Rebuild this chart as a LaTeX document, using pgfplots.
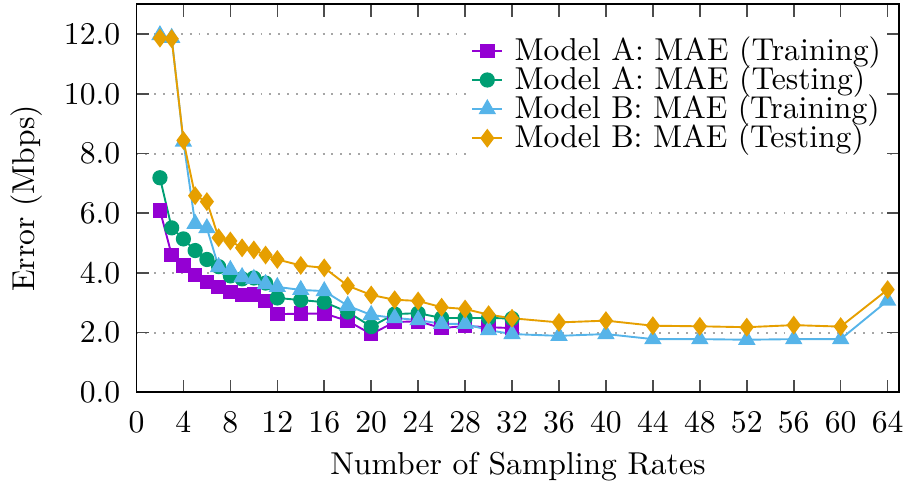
\documentclass[border=0pt]{standalone}
\usepackage{pgfplots}
\pgfplotsset{compat=1.18}
\definecolor{cA}{HTML}{9400D3}
\definecolor{cB}{HTML}{009E73}
\definecolor{cC}{HTML}{56B4E9}
\definecolor{cD}{HTML}{E69F00}
\begin{document}
\begin{tikzpicture}
\begin{axis}[
  name=main,
  scale only axis,
  width=241pt, height=122.5pt,
  xmin=0, xmax=65, ymin=0, ymax=13,
  xtick={0,4,...,64},
  ytick={0,2,...,12},
  yticklabel style={xshift=-1.6pt, /pgf/number format/.cd,fixed,fixed zerofill,precision=1},
  xticklabel style={yshift=-2.8pt},
  tick align=inside,
  major tick length=4pt,
  tick style={black!70, line width=0.5pt},
  axis line style={black, line width=0.6pt},
  ymajorgrids,
  grid style={gray!70, line width=0.6pt, dash pattern=on 0.6pt off 2.2pt},
  xlabel={Number of Sampling Rates},
  ylabel={Error (Mbps)},
  xlabel style={yshift=0.6pt},
  ylabel style={yshift=0pt},
  legend cell align=left,
  legend style={at={(0.985,0.935)}, anchor=north east, draw=none, fill=white,
    inner sep=1pt, row sep=-1.8pt, nodes={inner sep=1pt}},
  legend image code/.code={
    \draw[mark repeat=2,mark phase=2] plot coordinates {(0cm,0cm) (0.165cm,0cm) (0.33cm,0cm)};
    \path (0.33cm+2.6pt,0cm);},
  every axis plot/.append style={line width=0.6pt},
]
\addplot[color=cA, mark=square*, mark size=2pt] coordinates {
(2,6.1)(3,4.6)(4,4.24)(5,3.93)(6,3.70)(7,3.53)(8,3.36)(9,3.26)(10,3.27)(11,3.06)
(12,2.62)(14,2.63)(16,2.64)(18,2.39)(20,1.95)(22,2.35)(24,2.38)(26,2.15)(28,2.22)(30,2.18)(32,2.15)};
\addlegendentry{Model A: MAE (Training)}
\addplot[color=cB, mark=*, mark size=2.1pt] coordinates {
(2,7.19)(3,5.51)(4,5.14)(5,4.75)(6,4.45)(7,4.21)(8,3.9)(9,3.8)(10,3.83)(11,3.66)
(12,3.16)(14,3.09)(16,3.02)(18,2.69)(20,2.2)(22,2.62)(24,2.65)(26,2.49)(28,2.49)(30,2.49)(32,2.47)};
\addlegendentry{Model A: MAE (Testing)}
\addplot[color=cC, mark=triangle*, mark size=2.6pt] coordinates {
(2,11.97)(3,11.88)(4,8.4)(5,5.65)(6,5.5)(7,4.2)(8,4.1)(9,3.86)(10,3.8)(11,3.63)
(12,3.53)(14,3.43)(16,3.39)(18,2.9)(20,2.59)(22,2.49)(24,2.42)(26,2.29)(28,2.29)(30,2.08)(32,1.95)
(36,1.89)(40,1.95)(44,1.78)(48,1.78)(52,1.76)(56,1.78)(60,1.78)(64,3.07)};
\addlegendentry{Model B: MAE (Training)}
\addplot[color=cD, mark=diamond*, mark size=2.5pt] coordinates {
(2,11.87)(3,11.85)(4,8.44)(5,6.59)(6,6.39)(7,5.18)(8,5.07)(9,4.84)(10,4.77)(11,4.6)
(12,4.45)(14,4.25)(16,4.17)(18,3.57)(20,3.26)(22,3.1)(24,3.06)(26,2.85)(28,2.79)(30,2.6)(32,2.48)
(36,2.34)(40,2.4)(44,2.23)(48,2.21)(52,2.18)(56,2.25)(60,2.2)(64,3.44)};
\addlegendentry{Model B: MAE (Testing)}
\end{axis}
\path (main.north) ++(0,1.4pt);
\end{tikzpicture}
\end{document}
